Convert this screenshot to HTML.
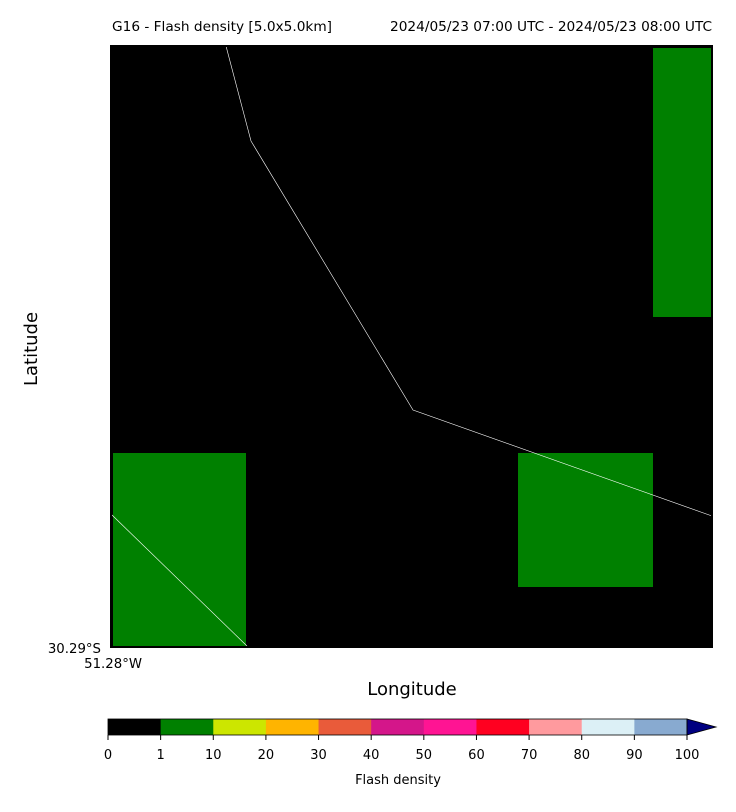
<!DOCTYPE html>
<html><head><meta charset="utf-8"><style>
body{margin:0;background:#fff;font-family:"Liberation Sans","DejaVu Sans",sans-serif;}
svg text{font-family:"DejaVu Sans","Liberation Sans",sans-serif;}
</style></head><body>
<svg id="c" width="736" height="807" xmlns="http://www.w3.org/2000/svg">
<text x="112" y="31" font-size="13.7">G16 - Flash density [5.0x5.0km]</text>
<text x="712" y="31" font-size="13.7" text-anchor="end">2024/05/23 07:00 UTC - 2024/05/23 08:00 UTC</text>
<rect x="111" y="46" width="601" height="601" fill="#000"/>
<g id="cells"></g>
<polyline points="226,46 251,141 413,410 712,516" fill="none" stroke="#fff" stroke-width="0.6"/>
<polyline points="112,515 247,646" fill="none" stroke="#fff" stroke-width="0.6"/>
<rect x="111" y="46" width="601" height="601" fill="none" stroke="#000" stroke-width="2"/>
<text x="101" y="653" font-size="13.3" text-anchor="end">30.29°S</text>
<text x="142" y="668" font-size="13.3" text-anchor="end">51.28°W</text>
<text x="412" y="695" font-size="18" text-anchor="middle">Longitude</text>
<text x="37" y="349" font-size="18" text-anchor="middle" transform="rotate(-90 37 349)">Latitude</text>
<g id="cbar"></g>
<text x="398" y="784" font-size="13" text-anchor="middle">Flash density</text>
</svg>
<script>
const NS="http://www.w3.org/2000/svg";
const colEdges=[113,246,382,518,653,711];
const rowEdges=[48,183,317,453,587,646];
// values[row][col], rows top to bottom
const values=[[0,0,0,0,5],[0,0,0,0,5],[0,0,0,0,0],[5,0,0,5,0],[5,0,0,0,0]];
const bounds=[0,1,10,20,30,40,50,60,70,80,90,100];
const colors=["#000000","#008000","#cce600","#ffb400","#e95b3a","#d4168a","#ff1493","#ff0020","#ff9a9e","#dcf0f6","#88aad0"];
const overColor="#000080";
function colorFor(v){for(let i=0;i<bounds.length-1;i++){if(v<bounds[i+1])return colors[i];}return overColor;}
const cg=document.getElementById('cells');
values.forEach((row,r)=>row.forEach((v,c)=>{
 if(v<=0)return;
 const el=document.createElementNS(NS,'rect');
 el.setAttribute('x',colEdges[c]);el.setAttribute('y',rowEdges[r]);
 el.setAttribute('width',colEdges[c+1]-colEdges[c]);el.setAttribute('height',rowEdges[r+1]-rowEdges[r]);
 el.setAttribute('fill',colorFor(v));
 
 
 cg.appendChild(el);
}));
const cb=document.getElementById('cbar');
const x0=108,x1=687,y0=719,h=16;
const n=colors.length,w=(x1-x0)/n;
colors.forEach((col,i)=>{
 const el=document.createElementNS(NS,'rect');
 el.setAttribute('x',x0+i*w);el.setAttribute('y',y0);el.setAttribute('width',w+0.5);el.setAttribute('height',h);el.setAttribute('fill',col);
 
 
 cb.appendChild(el);
});
const tri=document.createElementNS(NS,'polygon');
tri.setAttribute('points',`${x1},${y0} ${x1+29},${y0+h/2} ${x1},${y0+h}`);
tri.setAttribute('fill',overColor);tri.setAttribute('stroke','#000');tri.setAttribute('stroke-width','0.8');


cb.appendChild(tri);
const fr=document.createElementNS(NS,'rect');
fr.setAttribute('x',x0);fr.setAttribute('y',y0);fr.setAttribute('width',x1-x0);fr.setAttribute('height',h);
fr.setAttribute('fill','none');fr.setAttribute('stroke','#000');fr.setAttribute('stroke-width','0.8');


cb.appendChild(fr);
bounds.forEach((b,i)=>{
 const x=x0+i*w;
 const t=document.createElementNS(NS,'line');
 t.setAttribute('x1',x);t.setAttribute('x2',x);t.setAttribute('y1',y0+h);t.setAttribute('y2',y0+h+5);t.setAttribute('stroke','#000');
 
 
 cb.appendChild(t);
 const tx=document.createElementNS(NS,'text');
 tx.setAttribute('x',x);tx.setAttribute('y',y0+h+24);tx.setAttribute('font-size','13');tx.setAttribute('text-anchor','middle');
 tx.textContent=b;
 
 
 cb.appendChild(tx);
});
</script>
</body></html>
